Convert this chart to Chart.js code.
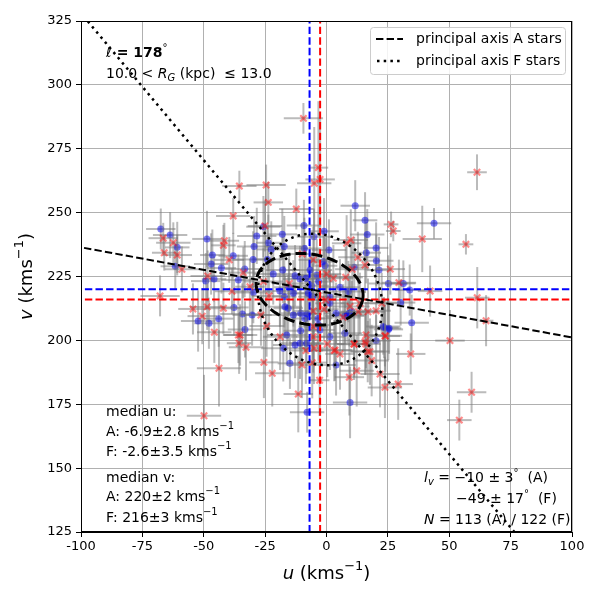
<!DOCTYPE html>
<html>
<head>
<meta charset="utf-8">
<script src="https://cdn.jsdelivr.net/npm/chart.js@4.4.1/dist/chart.umd.min.js"></script>
<style>html,body{margin:0;background:#fff}</style>
</head>
<body>
<canvas id="uvCanvas" width="600" height="600"></canvas>
<script>
// A stars (blue dots)
var aU = [
  -67.5,-63.7,-60.8,-61.6,-48.7,-46.5,-38.0,-47.0,-42.8,-49.2,
  -45.8,-35.9,-37.7,-52.3,-47.9,-43.9,-14.9,-7.9,3.9,9.6,
  20.2,43.8,31.3,33.9,30.2,34.7,23.4,25.5,11.7,15.7,
  -25.7,-18.0,-28.4,-1.0,16.6,-29.5,-22.5,20.2,1.0,-29.9,
  -1.3,20.3,-33.3,-17.8,11.3,-0.6,-12.8,-10.8,-4.0,-3.2,
  -6.0,-29.8,-15.3,-19.0,-17.2,-13.5,5.5,8.9,1.4,1.4,
  -16.9,-10.5,-7.8,3.9,8.5,9.3,-30.3,23.1,25.2,-17.6,
  -10.5,-10.8,-2.6,-9.2,-23.7,-17.2,-24.1,-9.0,-6.7,-8.4,
  -21.7,-5.1,16.2,21.4,25.2,-7.4,-15.6,-34.3,-13.5,-8.8,
  -3.6,-33.2,-16.2,-3.3,-12.8,-8.1,-5.6,10.3,7.5,7.5,
  1.4];
var aV = [
  243.6,241.2,236.4,229.0,239.7,233.4,233.1,229.9,228.3,223.2,
  224.0,223.6,212.9,207.6,206.7,208.5,191.0,171.9,190.4,175.7,
  199.9,245.8,222.3,219.7,214.8,206.9,205.0,204.7,252.7,247.0,
  244.5,241.5,240.9,242.7,241.4,236.7,235.6,236.2,235.4,231.7,
  230.8,231.2,227.9,227.5,228.6,229.2,225.3,224.0,225.6,223.0,
  221.4,218.7,220.8,219.3,217.1,218.4,220.8,219.1,217.1,214.5,
  213.2,210.6,210.3,210.6,209.9,210.6,209.9,205.4,204.3,196.9,
  203.8,198.9,204.1,245.0,238.2,236.7,231.7,236.0,227.5,224.3,
  226.0,240.6,234.3,227.5,222.3,218.4,212.6,210.3,209.9,208.6,
  208.6,204.3,202.1,206.0,198.2,198.9,217.1,211.2,209.5,202.8,
  201.4];
var aDu = [
  6,7,5,6,6,5,6,7,6,6, 5,7,6,7,6,6,5,7,8,7, 6,7,5,6,6,7,6,5,6,5,
  7,6,8,6,7,7,6,5,7,8, 6,7,8,7,6,5,8,7,9,6, 7,8,6,7,5,6,8,7,9,6,
  7,8,6,5,7,6,8,7,6,9, 7,8,6,7,5,8,6,7,9,6, 8,7,6,5,8,7,6,9,7,8,
  6,7,8,6,9,7,6,5,8,7, 6];
var aDv = [
  8,9,10,9,11,10,9,12,10,11, 9,10,11,12,10,11,10,8,12,14, 10,6,9,10,9,11,12,10,10,11,
  12,10,11,13,10,12,11,10,12,11, 12,10,11,13,12,11,12,13,14,12, 13,12,11,14,12,13,11,12,14,13,
  12,13,14,12,11,13,12,11,12,13, 12,14,13,10,11,12,13,12,14,13, 12,11,12,13,11,14,13,12,12,13,
  12,11,12,14,13,12,13,12,11,12, 13];

// F stars (red crosses)
var fU = [
  -9.4,-3.3,-5.0,-2.6,-35.5,-24.6,-38.0,-66.5,-62.4,-66.1,
  -60.8,-58.9,-41.6,-42.0,-39.6,-48.4,-67.8,-38.5,-54.4,-48.6,
  -42.0,-50.6,-45.7,-35.9,-35.6,-32.8,-43.8,-25.5,-22.1,-11.5,
  -49.9,-2.8,-10.0,3.5,5.5,11.3,16.0,17.7,18.4,34.3,
  12.3,9.3,21.8,23.8,29.2,59.1,54.1,50.3,61.3,26.3,
  27.2,39.0,56.8,26.0,29.5,42.2,61.4,65.0,23.8,-23.7,
  -12.3,8.2,9.9,12.8,-9.9,-5.4,15.7,-33.9,2.8,7.8,
  10.5,0.0,-25.7,-15.2,-31.2,-23.4,-0.3,9.6,13.0,20.2,
  16.9,-5.4,-1.0,6.8,-24.4,24.0,16.1,-26.7,-35.2,-18.9,
  -5.1,0.3,3.1,11.2,15.7,16.8,-25.1,-5.8,-8.4,13.6,
  22.5,-5.4,-5.4];
var fV = [
  286.9,267.6,261.5,263.0,260.4,260.8,248.7,240.0,238.2,234.3,
  233.4,227.8,239.0,237.2,231.5,225.2,217.4,219.2,212.3,213.1,
  212.6,209.5,203.2,202.1,198.9,197.3,189.1,191.4,187.1,179.0,
  170.5,184.4,190.4,196.2,194.7,198.6,198.6,195.6,192.1,194.7,
  188.1,185.6,186.8,181.6,182.9,179.7,168.8,199.9,265.8,245.4,
  242.8,239.7,237.6,227.9,222.6,219.3,216.7,207.7,201.8,254.0,
  251.4,238.0,239.3,232.5,233.8,231.5,229.5,226.5,224.3,224.7,
  227.8,226.0,223.0,222.3,221.0,217.4,215.8,213.3,211.2,211.6,
  211.2,211.5,212.2,209.0,205.6,201.7,202.1,209.9,202.1,201.4,
  196.9,198.6,196.0,198.5,199.5,195.6,244.8,191.3,196.0,214.5,
  214.5,205.4,201.4];
var fDu = [
  8,4,7,6,7,8,7,6,7,5, 6,7,6,5,6,7,8,7,6,7, 7,6,7,6,5,7,9,6,7,6,
  7,4,6,7,6,7,6,8,7,6, 7,6,8,7,6,6,5,6,4,3, 3,8,3,6,7,5,5,3,7,6,
  7,6,7,8,7,6,7,6,8,7, 7,6,8,7,6,7,6,8,7,6, 7,8,6,7,7,6,7,8,7,7,
  6,7,8,7,6,7,7,6,7,8, 7,6,7];
var fDv = [
  6,26,22,24,6,8,7,6,8,7, 8,9,7,8,9,10,8,9,10,9, 10,11,12,11,12,13,15,14,13,15,
  16,14,13,12,14,13,12,13,14,8, 14,15,13,12,14,8,8,12,7,5, 4,13,4,10,9,10,12,10,12,8,
  8,11,12,10,12,13,11,10,13,12, 12,14,13,12,11,13,14,12,13,12, 13,14,12,13,12,14,13,12,12,13,
  14,13,12,14,13,12,10,14,13,12, 12,13,14];

// medians and principal axes
var medUA = -6.9, medUF = -2.6;
var medVA = 220, medVF = 216;
var angA = -10, angF = -49;
// covariance ellipses: [semi-major, semi-minor]
var ellA = [22, 13.7];
var ellF = [27, 24];

var uTicks = [-100,-75,-50,-25,0,25,50,75,100];
var vTicks = [125,150,175,200,225,250,275,300,325];

var FONT = 'DejaVu Sans';

function pts(us, vs) {
  return us.map(function (u, i) { return {x: u, y: vs[i]}; });
}

function axisLine(u0, v0, angDeg) {
  var t = Math.tan(angDeg * Math.PI / 180);
  if (Math.abs(t) < 1) {
    return [{x: -120, y: v0 + t * (-120 - u0)}, {x: 120, y: v0 + t * (120 - u0)}];
  }
  return [{x: u0 + (345 - v0) / t, y: 345}, {x: u0 + (105 - v0) / t, y: 105}];
}

function ellipse(u0, v0, ab, angDeg) {
  var out = [], th = angDeg * Math.PI / 180;
  for (var k = 0; k <= 120; k++) {
    var s = k / 120 * 2 * Math.PI;
    var px = ab[0] * Math.cos(s), py = ab[1] * Math.sin(s);
    out.push({x: u0 + px * Math.cos(th) - py * Math.sin(th),
              y: v0 + px * Math.sin(th) + py * Math.cos(th)});
  }
  return out;
}

function lineSet(data, color, dash, width, order) {
  return {data: data, showLine: true, pointRadius: 0, borderColor: color,
          borderWidth: width, borderDash: dash, fill: false, order: order, tension: 0};
}

// draw text made of styled pieces
function rich(ctx, x, y, segs) {
  var cx = x;
  segs.forEach(function (s) {
    ctx.font = s.f || ('14px ' + FONT);
    ctx.fillStyle = s.c || '#000';
    ctx.fillText(s.t, cx, y + (s.dy || 0));
    cx += ctx.measureText(s.t).width;
  });
}
function richWidth(ctx, segs) {
  var w = 0;
  segs.forEach(function (s) { ctx.font = s.f || ('14px ' + FONT); w += ctx.measureText(s.t).width; });
  return w;
}
var N14 = '14px ' + FONT, I14 = 'italic 14px ' + FONT, S10 = '10px ' + FONT;

var errBars = {
  id: 'errBars',
  beforeDatasetDraw: function (chart, args) {
    var ds = chart.data.datasets[args.index];
    if (!ds.errU) return;
    var ctx = chart.ctx, a = chart.chartArea, x = chart.scales.x, y = chart.scales.y;
    ctx.save();
    ctx.beginPath(); ctx.rect(a.left, a.top, a.width, a.height); ctx.clip();
    ctx.strokeStyle = 'rgba(120,120,120,0.5)';
    ctx.lineWidth = 2;
    ds.data.forEach(function (p, i) {
      var px = x.getPixelForValue(p.x), py = y.getPixelForValue(p.y);
      ctx.beginPath();
      ctx.moveTo(x.getPixelForValue(p.x - ds.errU[i]), py);
      ctx.lineTo(x.getPixelForValue(p.x + ds.errU[i]), py);
      ctx.stroke();
      ctx.beginPath();
      ctx.moveTo(px, y.getPixelForValue(p.y - ds.errV[i]));
      ctx.lineTo(px, y.getPixelForValue(p.y + ds.errV[i]));
      ctx.stroke();
    });
    ctx.restore();
  }
};

var decorations = {
  id: 'decorations',
  afterDraw: function (chart) {
    var ctx = chart.ctx, a = chart.chartArea;
    ctx.save();
    ctx.strokeStyle = '#000'; ctx.lineWidth = 1;
    ctx.strokeRect(a.left + 0.5, a.top + 0.5, a.width - 1, a.height - 1);
    ctx.textBaseline = 'middle';

    // top-left labels
    rich(ctx, 106, 53, [{t: 'ℓ', f: I14}, {t: ' = 178', f: 'bold 14px ' + FONT}, {t: '°', f: S10, dy: -5}]);
    rich(ctx, 106, 74, [{t: '10.0 < ', f: N14}, {t: 'R', f: I14}, {t: 'G', f: 'italic 10px ' + FONT, dy: 4},
                        {t: ' (kpc)  ≤ 13.0', f: N14}]);

    // bottom-left medians
    var sup = {t: '−1', f: S10, dy: -6};
    rich(ctx, 106, 412, [{t: 'median u:'}]);
    rich(ctx, 106, 432, [{t: 'A: -6.9±2.8 kms'}, sup]);
    rich(ctx, 106, 452, [{t: 'F: -2.6±3.5 kms'}, sup]);
    rich(ctx, 106, 478, [{t: 'median v:'}]);
    rich(ctx, 106, 497, [{t: 'A: 220±2 kms'}, sup]);
    rich(ctx, 106, 518, [{t: 'F: 216±3 kms'}, sup]);

    // bottom-right angles
    rich(ctx, 424, 478, [{t: 'l', f: I14}, {t: 'v', f: 'italic 10px ' + FONT, dy: 4},
                         {t: ' = −10 ± 3'}, {t: '°', f: S10, dy: -5}, {t: '  (A)'}]);
    rich(ctx, 456, 499, [{t: '−49 ± 17'}, {t: '°', f: S10, dy: -5}, {t: '  (F)'}]);
    rich(ctx, 424, 520, [{t: 'N', f: I14}, {t: ' = 113 (A) / 122 (F)'}]);

    // legend
    ctx.fillStyle = 'rgba(255,255,255,0.85)';
    ctx.strokeStyle = '#cccccc';
    ctx.beginPath();
    ctx.roundRect(370.5, 27.5, 195, 47, 3);
    ctx.fill(); ctx.stroke();
    ctx.strokeStyle = '#000';
    ctx.lineWidth = 2;
    ctx.setLineDash([7.4, 3.2]);
    ctx.beginPath(); ctx.moveTo(376, 39); ctx.lineTo(403, 39); ctx.stroke();
    ctx.lineWidth = 2.5;
    ctx.setLineDash([2.5, 4.2]);
    ctx.beginPath(); ctx.moveTo(377, 61); ctx.lineTo(403, 61); ctx.stroke();
    ctx.setLineDash([]);
    rich(ctx, 416, 39, [{t: 'principal axis A stars'}]);
    rich(ctx, 416, 61, [{t: 'principal axis F stars'}]);

    // axis titles
    var xs = [{t: 'u', f: 'italic 18px ' + FONT}, {t: ' (kms', f: '18px ' + FONT},
              {t: '−1', f: '13px ' + FONT, dy: -7}, {t: ')', f: '18px ' + FONT}];
    rich(ctx, (a.left + a.right) / 2 - richWidth(ctx, xs) / 2, 574, xs);
    var ys = [{t: 'v', f: 'italic 18px ' + FONT}, {t: ' (kms', f: '18px ' + FONT},
              {t: '−1', f: '13px ' + FONT, dy: -7}, {t: ')', f: '18px ' + FONT}];
    ctx.translate(27, (a.top + a.bottom) / 2);
    ctx.rotate(-Math.PI / 2);
    rich(ctx, -richWidth(ctx, ys) / 2, 0, ys);
    ctx.restore();
  }
};

var context = document.getElementById('uvCanvas');

new Chart(context, {
  type: 'scatter',
  data: {
    datasets: [
      {data: pts(aU, aV), errU: aDu, errV: aDv, pointStyle: 'circle', pointRadius: 3.5,
       pointHoverRadius: 3.5, backgroundColor: 'rgba(0,0,235,0.5)', borderWidth: 0, order: 20},
      {data: pts(fU, fV), errU: fDu, errV: fDv, pointStyle: 'crossRot', pointRadius: 4.5,
       pointHoverRadius: 4.5, borderColor: 'rgba(255,0,0,0.45)', backgroundColor: 'rgba(255,0,0,0.45)',
       borderWidth: 2.2, order: 19},
      lineSet([{x: medUA, y: 100}, {x: medUA, y: 350}], '#0000ff', [7.4, 3.2], 2, 8),
      lineSet([{x: medUF, y: 100}, {x: medUF, y: 350}], '#ff0000', [7.4, 3.2], 2, 7),
      lineSet([{x: -120, y: medVA}, {x: 120, y: medVA}], '#0000ff', [7.4, 3.2], 2, 6),
      lineSet([{x: -120, y: medVF}, {x: 120, y: medVF}], '#ff0000', [7.4, 3.2], 2, 5),
      lineSet(axisLine(medUA, medVA, angA), '#000', [7.4, 3.2], 2, 4),
      lineSet(axisLine(medUF, medVF, angF), '#000', [2.5, 4.2], 2.5, 3),
      lineSet(ellipse(medUA, medVA, ellA, angA), '#000', [11, 5], 3, 2),
      lineSet(ellipse(medUF, medVF, ellF, angF), '#000', [2.5, 4.2], 2.5, 1)
    ]
  },
  options: {
    responsive: false,
    animation: false,
    events: [],
    layout: {padding: {top: 21, right: 28, left: 0, bottom: 0}},
    plugins: {legend: {display: false}, tooltip: {enabled: false}},
    scales: {
      x: {
        type: 'linear', min: -100, max: 100,
        afterBuildTicks: function (s) { s.ticks = uTicks.map(function (v) { return {value: v}; }); },
        afterFit: function (s) { s.height = 68; },
        grid: {color: '#b0b0b0', lineWidth: 1, tickColor: '#000', tickLength: 5},
        border: {color: '#000', width: 1},
        ticks: {color: '#000', font: {family: FONT, size: 13}, padding: 2, maxRotation: 0}
      },
      y: {
        type: 'linear', min: 125, max: 325,
        afterBuildTicks: function (s) { s.ticks = vTicks.map(function (v) { return {value: v}; }); },
        afterFit: function (s) { s.width = 81; },
        grid: {color: '#b0b0b0', lineWidth: 1, tickColor: '#000', tickLength: 5},
        border: {color: '#000', width: 1},
        ticks: {color: '#000', font: {family: FONT, size: 13}, padding: 4}
      }
    }
  },
  plugins: [errBars, decorations]
});
</script>
</body>
</html>
